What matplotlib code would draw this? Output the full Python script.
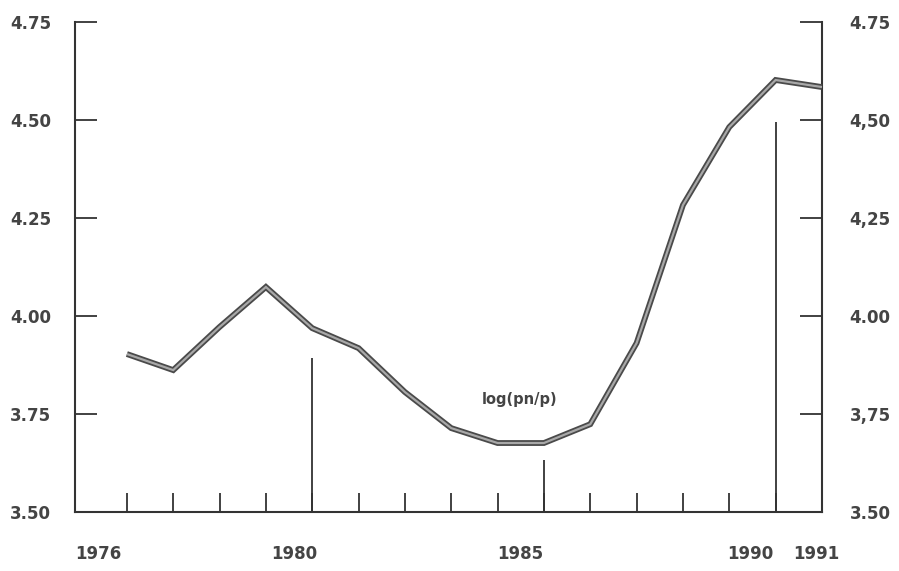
import matplotlib
matplotlib.use("Agg")
import matplotlib.pyplot as plt

# series
years = list(range(1976, 1992))
log_pn_p = [3.903, 3.862, 3.972, 4.074, 3.969, 3.918, 3.806, 3.714,
            3.676, 3.676, 3.724, 3.931, 4.283, 4.482, 4.602, 4.584]

# taller marker ticks on the time axis
marker_years = [1980, 1985, 1990]
marker_tops = [3.893, 3.633, 4.495]

y_ticks = [3.50, 3.75, 4.00, 4.25, 4.50, 4.75]
left_labels = ["3.50", "3.75", "4.00", "4.25", "4.50", "4.75"]
right_labels = ["3.50", "3,75", "4.00", "4,25", "4,50", "4.75"]

# year labels sit a bit left of their ticks in the original
year_labels = ["1976", "1980", "1985", "1990", "1991"]
year_label_pos = [1975.38, 1979.61, 1984.48, 1989.46, 1990.88]

series_label = "log(pn/p)"

ink = "#333333"
text_c = "#444444"

fig = plt.figure(figsize=(8.99, 5.71), dpi=100)
ax = fig.add_axes([0.0834, 0.1033, 0.8309, 0.8582])

ax.plot(years, log_pn_p, color="#4a4a4a", lw=4.2, solid_joinstyle="miter",
        solid_capstyle="butt", clip_on=False, zorder=3)
ax.plot(years, log_pn_p, color="#a8a8a8", lw=1.6, solid_joinstyle="miter",
        solid_capstyle="butt", clip_on=False, zorder=4)

ax.vlines(marker_years, 3.50, marker_tops, color=ink, lw=1.3)

ax.set_xlim(1974.88, 1991)
ax.set_ylim(3.50, 4.75)

ax.spines["top"].set_visible(False)
for side in ["left", "bottom", "right"]:
    ax.spines[side].set_color(ink)
    ax.spines[side].set_linewidth(1.5)

ax.set_xticks(years)
ax.set_xticklabels([])
ax.tick_params(axis="x", direction="in", length=13.5, width=1.3, color=ink)

ax.set_yticks(y_ticks)
ax.set_yticklabels(left_labels)
ax.tick_params(axis="y", direction="in", length=16, width=1.3, color=ink,
               pad=17, labelsize=12, labelcolor=text_c)

ax2 = ax.twinx()
ax2.set_ylim(ax.get_ylim())
ax2.set_yticks(y_ticks)
ax2.set_yticklabels(right_labels)
ax2.tick_params(axis="y", direction="in", length=16, width=1.3, color=ink,
                pad=20, labelsize=12, labelcolor=text_c)
for side in ["top", "left", "bottom", "right"]:
    ax2.spines[side].set_visible(False)

for lab in ax.get_yticklabels() + ax2.get_yticklabels():
    lab.set_fontweight("bold")

for txt, xpos in zip(year_labels, year_label_pos):
    ax.text(xpos, -0.085, txt, transform=ax.get_xaxis_transform(),
            ha="center", va="center", fontsize=12, fontweight="bold",
            color=text_c)

ax.text(1984.48, 3.786, series_label, ha="center", va="center",
        fontsize=10.5, fontweight="bold", color=text_c)

fig.savefig("out.png", dpi=100)
